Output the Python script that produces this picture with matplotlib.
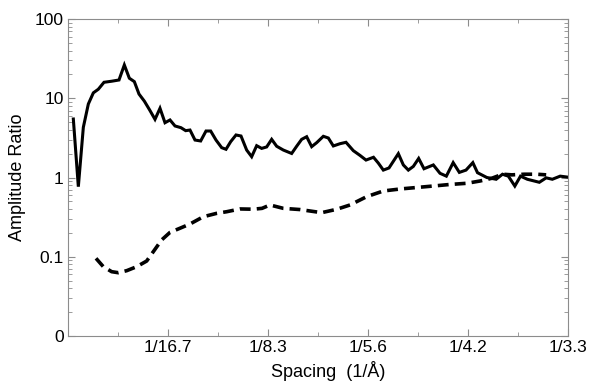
import matplotlib
matplotlib.use("Agg")
import matplotlib.pyplot as plt
from matplotlib.ticker import FixedLocator, LogLocator, NullFormatter

# Data (spatial frequency in 1/Å, amplitude ratio)
solid_x = [0.0032, 0.0062, 0.0092, 0.0122, 0.0152, 0.0182, 0.0216, 0.0262, 0.0306, 0.0338,
           0.0368, 0.0398, 0.0426, 0.0458, 0.0490, 0.0522, 0.0552, 0.0582, 0.0612, 0.0642,
           0.0678, 0.0706, 0.0732, 0.0762, 0.0796, 0.0828, 0.0856, 0.0888, 0.0922, 0.0948,
           0.0976, 0.1008, 0.1038, 0.1072, 0.1102, 0.1132, 0.1162, 0.1192, 0.1222, 0.1252,
           0.1292, 0.1342, 0.1372, 0.1402, 0.1432, 0.1462, 0.1492, 0.1532, 0.1562, 0.1592,
           0.1632, 0.1668, 0.1712, 0.1752, 0.1788, 0.1833, 0.1862, 0.1892, 0.1926, 0.1982,
           0.2012, 0.2042, 0.2072, 0.2104, 0.2136, 0.2192, 0.2232, 0.2270, 0.2311, 0.2348,
           0.2388, 0.2429, 0.2457, 0.2513, 0.2569, 0.2607, 0.2642, 0.2681, 0.2715, 0.2756,
           0.2828, 0.2869, 0.2906, 0.2953, 0.3000]
solid_y = [5.47, 0.766, 4.30, 8.46, 11.7, 13.0, 15.9, 16.4, 17.0, 26.3,
           17.9, 16.2, 11.3, 9.2, 7.11, 5.42, 7.47, 4.91, 5.32, 4.47,
           4.25, 3.90, 3.97, 2.97, 2.89, 3.86, 3.86, 2.97, 2.38, 2.27,
           2.83, 3.44, 3.34, 2.22, 1.83, 2.52, 2.33, 2.43, 3.03, 2.48,
           2.22, 2.01, 2.48, 3.03, 3.27, 2.45, 2.75, 3.31, 3.15, 2.50,
           2.67, 2.78, 2.18, 1.90, 1.66, 1.80, 1.52, 1.24, 1.32, 2.00,
           1.44, 1.24, 1.38, 1.74, 1.29, 1.44, 1.13, 1.04, 1.54, 1.16,
           1.24, 1.54, 1.15, 1.00, 0.95, 1.10, 1.04, 0.78, 1.04, 0.95,
           0.87, 0.99, 0.95, 1.04, 1.01]

dashed_x = [0.0168, 0.0212, 0.0262, 0.0302, 0.0352, 0.0412, 0.0472, 0.0512, 0.0562, 0.0612,
            0.0672, 0.0732, 0.0812, 0.0892, 0.0952, 0.1032, 0.1112, 0.1164, 0.1212, 0.1292,
            0.1392, 0.1522, 0.1612, 0.1692, 0.1792, 0.1892, 0.1992, 0.2092, 0.2192, 0.2292,
            0.2392, 0.2472, 0.2542, 0.2607, 0.2663, 0.2738, 0.2813, 0.2869]
dashed_y = [0.0955, 0.0749, 0.0648, 0.0629, 0.0667, 0.0749, 0.0883, 0.116, 0.163, 0.203,
            0.229, 0.259, 0.320, 0.353, 0.370, 0.401, 0.398, 0.408, 0.450, 0.408,
            0.394, 0.360, 0.397, 0.450, 0.573, 0.676, 0.716, 0.748, 0.781, 0.817,
            0.845, 0.903, 0.977, 1.10, 1.08, 1.10, 1.10, 1.08]

x_ticks = [0.06, 0.12, 0.18, 0.24, 0.30]
x_tick_labels = ["1/16.7", "1/8.3", "1/5.6", "1/4.2", "1/3.3"]
y_ticks = [0.01, 0.1, 1, 10, 100]
y_tick_labels = ["0", "0.1", "1", "10", "100"]

plt.rcParams['font.family'] = ['Liberation Sans', 'DejaVu Sans']

W, H = 592, 381
fig = plt.figure(figsize=(W / 100, H / 100), dpi=100)
L, R, T, B = 68, 568, 19, 336
ax = fig.add_axes([L / W, 1 - B / H, (R - L) / W, (B - T) / H])

ax.plot(solid_x, solid_y, color='black', lw=2.2, solid_joinstyle='miter')
ln, = ax.plot(dashed_x, dashed_y, color='black', lw=2.6)
ln.set_dashes((3.0, 1.7))

ax.set_yscale('log')
ax.set_ylim(0.01, 100)
ax.set_xlim(0, 0.30)

ax.set_xticks(x_ticks)
ax.set_xticklabels(x_tick_labels)
ax.xaxis.set_minor_locator(FixedLocator([0.03, 0.09, 0.15, 0.21, 0.27]))
ax.set_yticks(y_ticks)
ax.set_yticklabels(y_tick_labels)
ax.yaxis.set_minor_locator(LogLocator(base=10, subs=range(2, 10)))
ax.yaxis.set_minor_formatter(NullFormatter())

gray = '#8c8c8c'
for s in ax.spines.values():
    s.set_color(gray)
    s.set_linewidth(0.8)
ax.tick_params(which='both', direction='in', top=True, right=True, color=gray,
               labelsize=12.5, labelcolor='black', pad=3)
ax.tick_params(which='major', length=5, width=0.8)
ax.tick_params(which='minor', length=3, width=0.6)

ax.set_xlabel("Spacing  (1/Å)", fontsize=13, va='center')
ax.xaxis.set_label_coords((328 - L) / (R - L), (B - 371) / (B - T))
ax.set_ylabel("Amplitude Ratio", fontsize=13, va='center')
ax.yaxis.set_label_coords((18 - L) / (R - L), 0.5)

fig.savefig("out.png", dpi=100)
